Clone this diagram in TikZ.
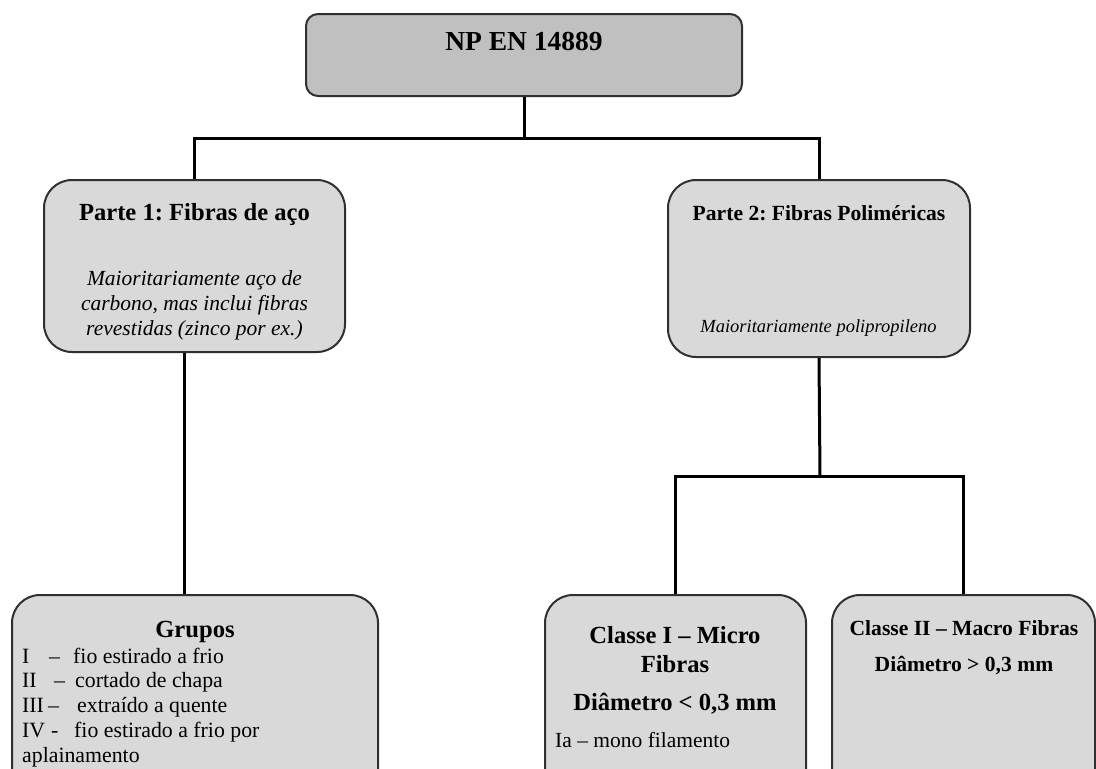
\documentclass[tikz,border=0pt]{standalone}
\usepackage{fontspec}
\setmainfont{Liberation Serif}
\frenchspacing
\definecolor{boxfill}{HTML}{D9D9D9}
\definecolor{topfill}{HTML}{C0C0C0}
\definecolor{boxline}{HTML}{303030}
\begin{document}
\begin{tikzpicture}[x=1pt,y=-1pt,
  box/.style={draw=boxline, line width=2pt, rounded corners=28pt, fill=boxfill, inner sep=0pt},
  conn/.style={line width=3pt, draw=black},
  txt/.style={inner sep=0pt, anchor=base, text=black},
  ltxt/.style={inner sep=0pt, anchor=base west, text=black},
  fTitle/.style={font=\fontsize{27.5}{30}\selectfont\bfseries},
  fBigB/.style={font=\fontsize{24.6}{28}\selectfont\bfseries},
  fMidB/.style={font=\fontsize{21.6}{25}\selectfont\bfseries},
  fIt/.style={font=\fontsize{21.5}{25}\selectfont\itshape},
  fSmIt/.style={font=\fontsize{18.5}{22}\selectfont\itshape},
  fReg/.style={font=\fontsize{21.8}{25}\selectfont},
  fRegS/.style={font=\fontsize{21.5}{25}\selectfont}]
\useasboundingbox (0,0) rectangle (1096,769);
\clip (0,0) rectangle (1096,769);

% boxes
\node[box, fill=topfill, rounded corners=12pt, minimum width=436pt, minimum height=82pt] (top) at (524,55) {};
\node[box, minimum width=301pt, minimum height=172pt] (p1) at (194.5,266) {};
\node[box, minimum width=302pt, minimum height=177pt] (p2) at (819,268.5) {};
\node[box, minimum width=366pt, minimum height=225pt] (grp) at (195,707.5) {};
\node[box, minimum width=261pt, minimum height=225pt] (cI) at (675.5,707.5) {};
\node[box, minimum width=263pt, minimum height=225pt] (cII) at (963.5,707.5) {};

% connectors
\coordinate (j1) at (524,138);
\coordinate (j2) at (820,476);
\coordinate (c1) at (184,0);
\draw[conn] (top.south) -- (j1);
\draw[conn] (j1) -| (p1.north);
\draw[conn] (j1) -| (p2.north);
\draw[conn] (p1.south -| c1) -- (grp.north -| c1);
\draw[conn] (p2.south) -- (j2);
\draw[conn] (j2) -| (cI.north);
\draw[conn] (j2) -| (cII.north);

% texts
\node[txt, fTitle] (tTop) at (524,50) {NP EN 14889};

\node[txt, fBigB] (tP1) at (194.5,220) {Parte 1: Fibras de aço};
\node[txt, fIt] (tP1a) at (194.5,285) {Maioritariamente aço de};
\node[txt, fIt] (tP1b) at (194.5,310) {carbono, mas inclui fibras};
\node[txt, fIt] (tP1c) at (194.5,335) {revestidas (zinco por ex.)};

\node[txt, fMidB] (tP2) at (819,220) {Parte 2: Fibras Poliméricas};
\node[txt, fSmIt] (tP2a) at (818.5,332) {Maioritariamente polipropileno};

\node[txt, fBigB] (tG) at (195,637) {Grupos};
\node[ltxt, fReg] (g1a) at (22,663) {I};
\node[ltxt, fReg] (g1b) at (49,663) {–};
\node[ltxt, fReg] (g1c) at (73,663) {fio estirado a frio};
\node[ltxt, fReg] (g2a) at (22,687) {II};
\node[ltxt, fReg] (g2b) at (54,687) {–};
\node[ltxt, fReg] (g2c) at (75,687) {cortado de chapa};
\node[ltxt, fReg] (g3a) at (22,712) {III};
\node[ltxt, fReg] (g3b) at (48,712) {–};
\node[ltxt, fReg] (g3c) at (77,712) {extraído a quente};
\node[ltxt, fReg] (g4a) at (22,737) {IV};
\node[ltxt, fReg] (g4b) at (51,737) {-};
\node[ltxt, fReg] (g4c) at (74,737) {fio estirado a frio por};
\node[ltxt, fReg] (g5) at (22,762) {aplainamento};

\node[txt, fBigB] (tC1a) at (675,643) {Classe I – Micro};
\node[txt, fBigB] (tC1b) at (675,672) {Fibras};
\node[txt, fBigB] (tC1c) at (675,710) {Diâmetro < 0,3 mm};
\node[ltxt, fRegS] (tC1d) at (555,747) {Ia – mono filamento};

\node[txt, fMidB] (tC2a) at (964,635) {Classe II – Macro Fibras};
\node[txt, fMidB] (tC2b) at (964,671) {Diâmetro > 0,3 mm};
\end{tikzpicture}
\end{document}
